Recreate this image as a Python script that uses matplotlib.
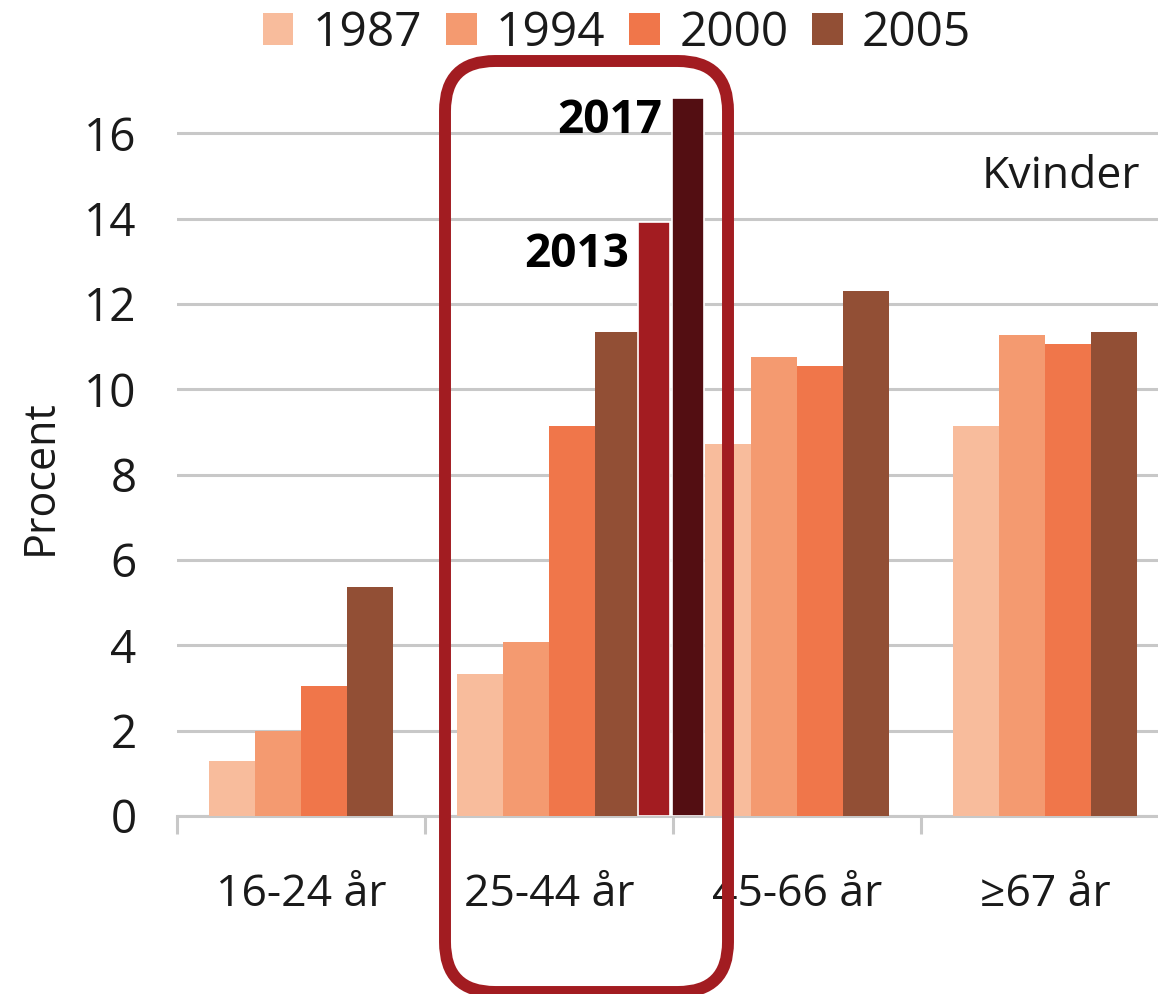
import numpy as np
import matplotlib
matplotlib.use("Agg")
import matplotlib.pyplot as plt
from matplotlib.patches import FancyBboxPatch, Patch
from matplotlib.transforms import IdentityTransform

plt.rcParams['font.family'] = ['Open Sans', 'DejaVu Sans']

# data
age_groups = ['16-24 år', '25-44 år', '45-66 år', '≥67 år']
years = ['1987', '1994', '2000', '2005']
values = {
    '1987': [1.28, 3.33, 8.72, 9.14],
    '1994': [2.00, 4.07, 10.76, 11.27],
    '2000': [3.04, 9.14, 10.55, 11.06],
    '2005': [5.37, 11.34, 12.30, 11.34],
}
colors = ['#F8BC9C', '#F49A70', '#F0764A', '#924F35']

# extra years only shown for 25-44 år
extra_years = ['2013', '2017']
extra_values = [13.91, 16.82]
extra_colors = ['#A31C21', '#530E12']
extra_group = 1

fig = plt.figure(figsize=(11.58, 9.94), dpi=100)
ax = fig.add_axes([0.1528, 0.1791, 0.8472, 0.7513])

x = np.arange(len(age_groups))
w = 0.185
for i, yr in enumerate(years):
    ax.bar(x + (i - 1.5) * w, values[yr], width=w, color=colors[i],
           label=yr, zorder=3)

# the added 2013/2017 bars
ew = 0.128
starts = [0.361, 0.498]
for j, yr in enumerate(extra_years):
    xc = extra_group + starts[j] + ew / 2
    ax.bar(xc, extra_values[j], width=ew, color=extra_colors[j],
           edgecolor='white', linewidth=1.2, zorder=4)
    ax.annotate(yr, xy=(xc - ew / 2, extra_values[j]), xytext=(-7, 1 if j == 1 else -6),
                textcoords='offset points', ha='right', va='top',
                fontsize=33, fontweight='bold', color='black', zorder=5)

ax.set_xlim(-0.5, 3.456)
ax.set_ylim(0, 17.5)
ax.set_yticks(np.arange(0, 17, 2))
ax.tick_params(axis='y', length=0, pad=29, labelsize=33, labelcolor='#1a1a1a')
ax.yaxis.grid(True, color='#C8C8C8', linewidth=2.2, zorder=0)
ax.set_axisbelow(True)

ax.set_xticks([-0.5, 0.5, 1.5, 2.5])
ax.set_xticklabels([])
ax.set_xticks(x, minor=True)
ax.set_xticklabels(age_groups, minor=True)
ax.tick_params(axis='x', which='major', length=13, width=2.2, color='#C8C8C8')
ax.tick_params(axis='x', which='minor', length=0, pad=41, labelsize=32,
               labelcolor='#1a1a1a')

for s in ['left', 'top', 'right']:
    ax.spines[s].set_visible(False)
ax.spines['bottom'].set_color('#C8C8C8')
ax.spines['bottom'].set_linewidth(2.2)

ax.text(3.383, 14.72, 'Kvinder', ha='right', va='baseline', fontsize=32,
        color='#1a1a1a')

fig.text(40 / 1158, (994 - 477) / 994, 'Procent', rotation=90, ha='center',
         va='center', fontsize=31, color='#1a1a1a')

handles = [Patch(facecolor=c, edgecolor='none') for c in colors]
fig.legend(handles, years, loc='center', bbox_to_anchor=(617 / 1158, (994 - 33) / 994),
           ncol=4, frameon=False, fontsize=34.5, handlelength=0.64, handleheight=0.64,
           handletextpad=0.4, columnspacing=0.5, borderpad=0, labelcolor='#1a1a1a')

# red rounded frame around the 25-44 group
frame = FancyBboxPatch((445, 994 - 992), 728 - 445, 992 - 61,
                       boxstyle='round,pad=0,rounding_size=50',
                       transform=IdentityTransform(), facecolor='none',
                       edgecolor='#A21C21', linewidth=8.6, zorder=10)
fig.add_artist(frame)

fig.savefig('out.png', dpi=100)
